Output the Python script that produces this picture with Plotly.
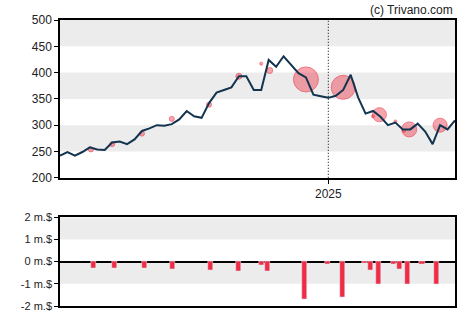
import plotly.graph_objects as go
from plotly.subplots import make_subplots

dates = ["2024-04-24","2024-05-01","2024-05-08","2024-05-15","2024-05-22","2024-05-29","2024-06-05","2024-06-12",
         "2024-06-19","2024-06-26","2024-07-03","2024-07-10","2024-07-17","2024-07-24","2024-07-31","2024-08-07",
         "2024-08-14","2024-08-21","2024-08-28","2024-09-04","2024-09-11","2024-09-18","2024-09-25","2024-10-02",
         "2024-10-09","2024-10-16","2024-10-23","2024-10-30","2024-11-06","2024-11-13","2024-11-20","2024-11-27",
         "2024-12-04","2024-12-11","2024-12-18","2024-12-25","2025-01-01","2025-01-08","2025-01-15","2025-01-22",
         "2025-01-29","2025-02-05","2025-02-12","2025-02-19","2025-02-26","2025-03-05","2025-03-12","2025-03-19",
         "2025-03-26","2025-04-02","2025-04-09","2025-04-16","2025-04-23","2025-04-30"]
prices = [242,249,242,249,258,254,253,267,269,264,273,289,294,300,299,302,311,327,317,314,342,362,367,372,
          393,393,367,367,424,411,431,416,399,391,358,355,352,356,367,396,353,322,327,316,300,305,292,292,
          303,288,264,300,292,309]

trade_dates = ["2024-05-23","2024-06-12","2024-07-10","2024-08-07","2024-09-11","2024-10-09","2024-10-30",
               "2024-11-07","2024-12-11","2025-01-15","2025-02-12","2025-02-18","2025-03-05","2025-03-13",
               "2025-03-18","2025-04-16"]
trade_prices = [254,264,284,312,339,393,417,404,387,372,317,320,307,289,292,300]
trade_sizes = [5,5,5,5,5,6,3,6,25,24,3,14,3,3,15,14]

flow_dates = ["2024-05-25","2024-06-14","2024-07-12","2024-08-08","2024-09-12","2024-10-09","2024-10-30",
              "2024-11-05","2024-12-10","2024-12-31","2025-01-14","2025-02-04","2025-02-10","2025-02-17",
              "2025-03-03","2025-03-09","2025-03-16","2025-03-30","2025-04-13"]
flow_values = [-0.29,-0.29,-0.29,-0.33,-0.37,-0.42,-0.15,-0.42,-1.71,-0.10,-1.62,-0.06,-0.37,-1.0,
               -0.10,-0.33,-1.0,-0.10,-1.04]

price_ticks = [200,250,300,350,400,450,500]
flow_ticks = [-2,-1,0,1,2]
flow_labels = ["-2 m.$","-1 m.$","0 m.$","1 m.$","2 m.$"]

fig = make_subplots(rows=2, cols=1)

fig.add_trace(go.Scatter(x=trade_dates, y=trade_prices, mode="markers",
                         marker=dict(size=trade_sizes, sizemode="diameter",
                                     color="rgba(235,60,80,0.65)",
                                     line=dict(color="rgba(235,50,70,0.9)", width=1)),
                         showlegend=False), row=1, col=1)
fig.add_trace(go.Scatter(x=dates, y=prices, mode="lines",
                         line=dict(color="#12344f", width=2), showlegend=False), row=1, col=1)
fig.add_trace(go.Bar(x=flow_dates, y=flow_values, marker_color="#ee2c44",
                     width=4.7*86400000, showlegend=False), row=2, col=1)

xr = ["2024-04-24", "2025-04-30"]
fig.update_xaxes(range=xr, showgrid=False, zeroline=False, showline=True, linecolor="black",
                 linewidth=1.5, mirror=True)
fig.update_xaxes(row=1, col=1, domain=[0, 1], tickvals=["2025-01-01"], ticktext=["2025"],
                 ticks="outside", ticklen=4, tickcolor="black",
                 tickfont=dict(family="Liberation Sans, Arial", size=12, color="#222"))
fig.update_xaxes(row=2, col=1, domain=[0, 1], showticklabels=False, ticks="")

fig.update_yaxes(row=1, col=1, domain=[130/290, 1], range=[200, 500], tickvals=price_ticks,
                 ticks="outside", ticklen=4, tickcolor="black", showgrid=False, zeroline=False,
                 showline=True, linecolor="black", linewidth=1.5, mirror=True,
                 tickfont=dict(family="Liberation Sans, Arial", size=12, color="#222"))
fig.update_yaxes(row=2, col=1, domain=[0, 90/290], range=[-2, 2], tickvals=flow_ticks,
                 ticktext=flow_labels, ticks="outside", ticklen=4, tickcolor="black",
                 showgrid=False, zeroline=True, zerolinecolor="black", zerolinewidth=1.5,
                 showline=True, linecolor="black", linewidth=1.5, mirror=True,
                 tickfont=dict(family="Liberation Sans, Arial", size=11, color="#222"))

shapes = []
for lo, hi in [(250, 300), (350, 400), (450, 500)]:
    shapes.append(dict(type="rect", xref="x domain", yref="y", x0=0, x1=1, y0=lo, y1=hi,
                       fillcolor="#ececec", line=dict(width=0), layer="below"))
for lo, hi in [(1, 2), (-1, 0)]:
    shapes.append(dict(type="rect", xref="x2 domain", yref="y2", x0=0, x1=1, y0=lo, y1=hi,
                       fillcolor="#ececec", line=dict(width=0), layer="below"))
shapes.append(dict(type="line", xref="x", yref="y domain", x0="2025-01-01", x1="2025-01-01",
                   y0=0, y1=1, line=dict(color="black", width=1, dash="1px,2px")))

fig.update_layout(width=470, height=325, margin=dict(l=60, r=15, t=20, b=15),
                  plot_bgcolor="white", paper_bgcolor="white", shapes=shapes, bargap=0,
                  annotations=[dict(text="(c) Trivano.com", xref="paper", yref="paper", x=1, y=1,
                                    xanchor="right", yanchor="bottom", yshift=1, showarrow=False,
                                    font=dict(family="Liberation Sans, Arial", size=12, color="#222"))])

fig.write_html("out.html")
